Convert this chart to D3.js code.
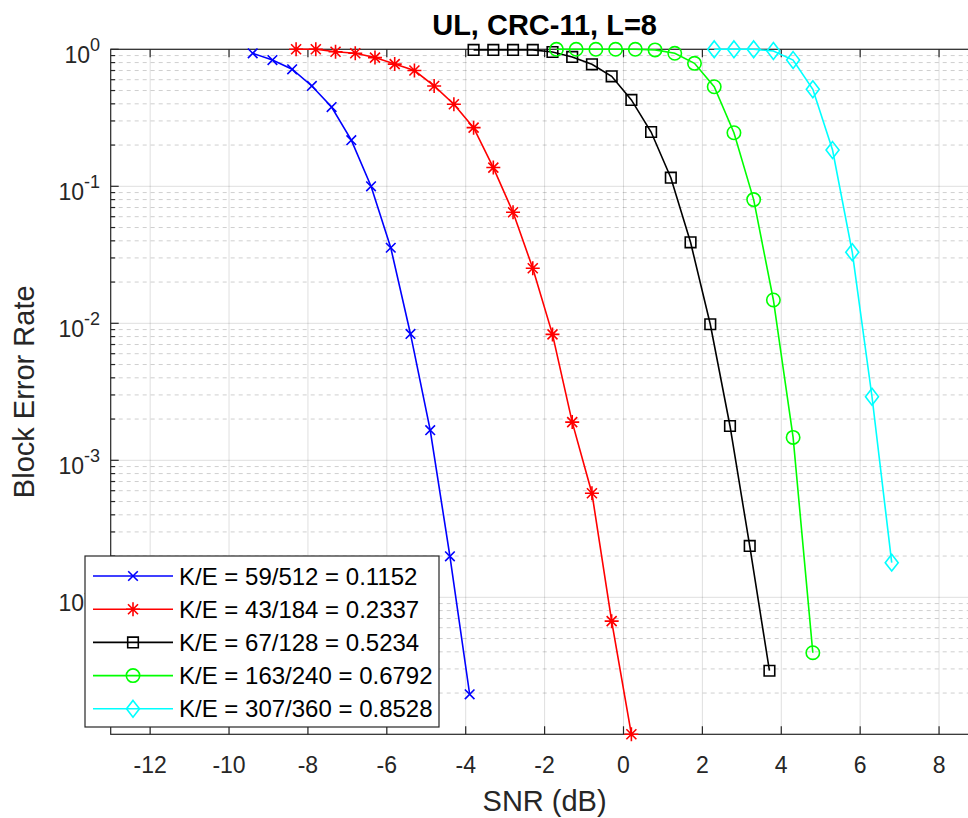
<!DOCTYPE html>
<html>
<head>
<meta charset="utf-8">
<script src="https://cdn.jsdelivr.net/npm/d3@7"></script>
<style>
  body { margin: 0; background: #fff; }
  svg { display: block; font-family: "Liberation Sans", Arial, Helvetica, sans-serif; }
  .majorGrid { stroke: #262626; stroke-opacity: 0.15; stroke-width: 1; }
  .minorGrid { stroke: #262626; stroke-opacity: 0.22; stroke-width: 1; stroke-dasharray: 4,4; }
  .axisLine { stroke: #262626; stroke-width: 1.2; fill: none; }
  .tickLbl { fill: #262626; font-size: 23px; }
  .series { fill: none; stroke-width: 1.6; }
</style>
</head>
<body>
<svg id="svg"></svg>
<script>
// data (SNR in dB, block error rate)
var snrBlue  = [-9.4, -8.9, -8.4, -7.9, -7.4, -6.9, -6.4, -5.9, -5.4, -4.9, -4.4, -3.9];
var blerBlue = [0.935, 0.835, 0.715, 0.54, 0.379, 0.217, 0.1, 0.0356, 0.00836, 0.00166, 1.99e-4, 1.96e-5];

var snrRed  = [-8.3, -7.8, -7.3, -6.8, -6.3, -5.8, -5.3, -4.8, -4.3, -3.8, -3.3, -2.8, -2.3, -1.8, -1.3, -0.8, -0.3, 0.2];
var blerRed = [1, 1, 0.96, 0.935, 0.87, 0.78, 0.70, 0.54, 0.397, 0.268, 0.137, 0.0646, 0.0252, 0.0083, 0.0019, 5.75e-4, 6.7e-5, 1e-5];

var snrBlack  = [-3.8, -3.3, -2.8, -2.3, -1.8, -1.3, -0.8, -0.3, 0.2, 0.7, 1.2, 1.7, 2.2, 2.7, 3.2, 3.7];
var blerBlack = [0.99, 0.99, 0.99, 0.99, 0.956, 0.879, 0.777, 0.635, 0.427, 0.249, 0.1156, 0.039, 0.00984, 0.00178, 2.37e-4, 2.91e-5];

var snrGreen  = [-1.7, -1.2, -0.7, -0.2, 0.3, 0.8, 1.3, 1.8, 2.3, 2.8, 3.3, 3.8, 4.3, 4.8];
var blerGreen = [1, 1, 1, 1, 1, 0.99, 0.935, 0.79, 0.533, 0.246, 0.080, 0.0148, 0.00147, 3.94e-5];

var snrCyan  = [2.3, 2.8, 3.3, 3.8, 4.3, 4.8, 5.3, 5.8, 6.3, 6.8];
var blerCyan = [1, 1, 1, 0.972, 0.835, 0.511, 0.184, 0.033, 0.00291, 1.79e-4];

var legendLabels = ["K/E = 59/512 = 0.1152", "K/E = 43/184 = 0.2337", "K/E = 67/128 = 0.5234",
                    "K/E = 163/240 = 0.6792", "K/E = 307/360 = 0.8528"];

var xTickVals = [-12, -10, -8, -6, -4, -2, 0, 2, 4, 6, 8];
var xTickLabels = ["-12", "-10", "-8", "-6", "-4", "-2", "0", "2", "4", "6", "8"];
var yTickVals = [1, 0.1, 0.01, 0.001, 0.0001];
var yTickExp = ["0", "-1", "-2", "-3", "-4"];

var series = [
  {x: snrBlue,  y: blerBlue,  color: "#0000ff", marker: "x"},
  {x: snrRed,   y: blerRed,   color: "#ff0000", marker: "star"},
  {x: snrBlack, y: blerBlack, color: "#000000", marker: "square"},
  {x: snrGreen, y: blerGreen, color: "#00ff00", marker: "circle"},
  {x: snrCyan,  y: blerCyan,  color: "#00ffff", marker: "diamond"}
];

// AXES

var W = 968, H = 818;
var axL = 110.7, axR = 978.5, axT = 49.3, axB = 734.3;

var svg = d3.select("#svg").attr("width", W).attr("height", H);
svg.append("rect").attr("width", W).attr("height", H).attr("fill", "#fff");

var x = d3.scaleLinear().domain([-13, 9]).range([axL, axR]);
var y = d3.scaleLog().domain([1e-5, 1]).range([axB, axT]);

// minor y values 2..9 in every decade
var minorY = [];
[1e-5, 1e-4, 1e-3, 1e-2, 1e-1].forEach(function(d){
  for (var m = 2; m <= 9; m++) minorY.push(m * d);
});

var grid = svg.append("g");
grid.selectAll(".minorGrid").data(minorY).enter()
  .append("line").attr("class", "minorGrid")
    .attr("x1", axL).attr("x2", axR)
    .attr("y1", function(d){ return y(d); })
    .attr("y2", function(d){ return y(d); });

grid.selectAll(".gx").data(xTickVals).enter()
  .append("line").attr("class", "majorGrid")
    .attr("x1", function(d){ return x(d); })
    .attr("x2", function(d){ return x(d); })
    .attr("y1", axT).attr("y2", axB);

grid.selectAll(".gy").data(yTickVals).enter()
  .append("line").attr("class", "majorGrid")
    .attr("x1", axL).attr("x2", axR)
    .attr("y1", function(d){ return y(d); })
    .attr("y2", function(d){ return y(d); });

var ax = svg.append("g");
ax.append("rect").attr("class", "axisLine")
  .attr("x", axL).attr("y", axT)
  .attr("width", axR - axL).attr("height", axB - axT);

// ticks point inwards, on bottom and top
ax.selectAll(".xtb").data(xTickVals).enter()
  .append("line").attr("class", "axisLine")
    .attr("x1", function(d){ return x(d); }).attr("x2", function(d){ return x(d); })
    .attr("y1", axB).attr("y2", axB - 8);
ax.selectAll(".xtt").data(xTickVals).enter()
  .append("line").attr("class", "axisLine")
    .attr("x1", function(d){ return x(d); }).attr("x2", function(d){ return x(d); })
    .attr("y1", axT).attr("y2", axT + 8);
ax.selectAll(".ytm").data(yTickVals).enter()
  .append("line").attr("class", "axisLine")
    .attr("x1", axL).attr("x2", axL + 8)
    .attr("y1", function(d){ return y(d); }).attr("y2", function(d){ return y(d); });
ax.selectAll(".ytn").data(minorY).enter()
  .append("line").attr("class", "axisLine")
    .attr("x1", axL).attr("x2", axL + 4.5)
    .attr("y1", function(d){ return y(d); }).attr("y2", function(d){ return y(d); });

ax.selectAll(".xl").data(xTickVals).enter()
  .append("text").attr("class", "tickLbl")
    .attr("x", function(d){ return x(d); })
    .attr("y", 773)
    .attr("text-anchor", "middle")
    .text(function(d, i){ return xTickLabels[i]; });

var yl = ax.selectAll(".yl").data(yTickVals).enter()
  .append("text").attr("class", "tickLbl")
    .attr("x", 100)
    .attr("y", function(d){ return y(d) + 13.7; })
    .attr("text-anchor", "end");
yl.append("tspan").text("10");
yl.append("tspan").attr("dy", -12).style("font-size", "18px")
  .text(function(d, i){ return yTickExp[i]; });

// MARKERS

function markerPath(type){
  if (type == "x") return "M-4.8,-4.8L4.8,4.8M-4.8,4.8L4.8,-4.8";
  if (type == "star") return "M-7,0L7,0M0,-7L0,7M-5,-5L5,5M-5,5L5,-5";
  if (type == "square") return "M-5.3,-5.3H5.3V5.3H-5.3Z";
  if (type == "circle") return "M6.7,0A6.7,6.7 0 1,1 -6.7,0A6.7,6.7 0 1,1 6.7,0Z";
  if (type == "diamond") return "M0,-8.4L6.5,0L0,8.4L-6.5,0Z";
}

var line = d3.line()
  .x(function(d){ return x(d[0]); })
  .y(function(d){ return y(d[1]); });

var plotgrp = svg.append("g");
series.forEach(function(s){
  var pts = s.x.map(function(v, i){ return [v, s.y[i]]; });
  plotgrp.append("path").attr("class", "series")
    .attr("stroke", s.color)
    .attr("d", line(pts));
  plotgrp.selectAll(null).data(pts).enter()
    .append("path")
      .attr("transform", function(d){ return "translate(" + x(d[0]) + "," + y(d[1]) + ")"; })
      .attr("d", markerPath(s.marker))
      .attr("fill", "none")
      .attr("stroke", s.color)
      .attr("stroke-width", 1.6);
});

// LEGEND

var lg = svg.append("g");
lg.append("rect")
  .attr("x", 85).attr("y", 556).attr("width", 354).attr("height", 171)
  .attr("fill", "#fff").attr("stroke", "#262626").attr("stroke-width", 1.2);

var items = lg.selectAll(".item").data(series).enter()
  .append("g")
    .attr("transform", function(d, i){ return "translate(0," + (576 + i * 33.2) + ")"; });
items.append("line")
  .attr("x1", 93).attr("x2", 173).attr("y1", 0).attr("y2", 0)
  .attr("stroke", function(d){ return d.color; }).attr("stroke-width", 1.6);
items.append("path")
  .attr("transform", "translate(133,0)")
  .attr("d", function(d){ return markerPath(d.marker); })
  .attr("fill", "none")
  .attr("stroke", function(d){ return d.color; }).attr("stroke-width", 1.6);
items.append("text")
  .attr("x", 179).attr("y", 8.5)
  .style("font-size", "24px").attr("fill", "#000")
  .text(function(d, i){ return legendLabels[i]; });

// LABELS

svg.append("text")
  .attr("x", (axL + axR) / 2).attr("y", 35)
  .attr("text-anchor", "middle")
  .style("font-size", "29px").style("font-weight", "bold").attr("fill", "#000")
  .text("UL, CRC-11, L=8");

svg.append("text")
  .attr("x", (axL + axR) / 2).attr("y", 811)
  .attr("text-anchor", "middle")
  .style("font-size", "29px").attr("fill", "#262626")
  .text("SNR (dB)");

svg.append("text")
  .attr("transform", "translate(34," + (axT + axB) / 2 + ") rotate(-90)")
  .attr("text-anchor", "middle")
  .style("font-size", "29px").attr("fill", "#262626")
  .text("Block Error Rate");
</script>
</body>
</html>
